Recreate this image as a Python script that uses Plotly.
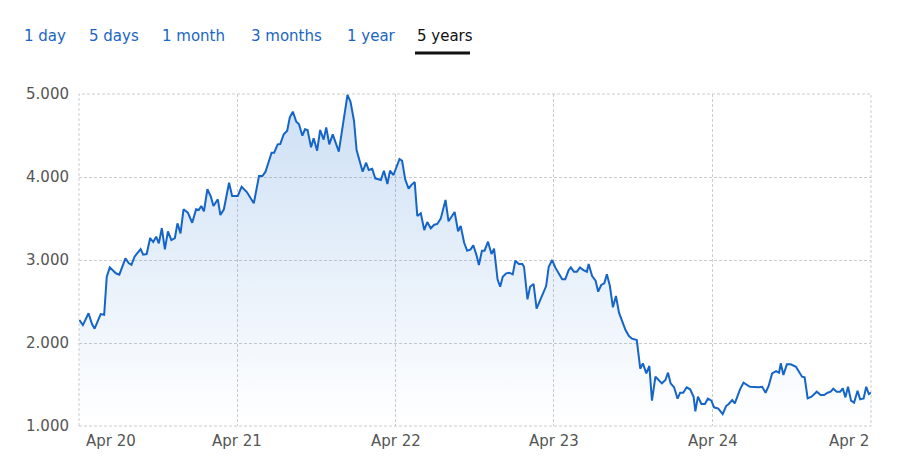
import plotly.graph_objects as go

# ---- data ----
dates = [
    "2020-04-02", "2020-04-10", "2020-04-23", "2020-05-01", "2020-05-07", "2020-05-21", "2020-05-29",
    "2020-06-04", "2020-06-11", "2020-06-25", "2020-07-03", "2020-07-17", "2020-07-25", "2020-07-31",
    "2020-08-07", "2020-08-21", "2020-08-27", "2020-09-04", "2020-09-12", "2020-09-19", "2020-09-26",
    "2020-10-02", "2020-10-09", "2020-10-16", "2020-10-23", "2020-10-31", "2020-11-08", "2020-11-14",
    "2020-11-21", "2020-11-28", "2020-12-08", "2020-12-18", "2020-12-27", "2021-01-02", "2021-01-08",
    "2021-01-14", "2021-01-22", "2021-01-30", "2021-02-05", "2021-02-15", "2021-02-21", "2021-03-01",
    "2021-03-13", "2021-03-20", "2021-04-02", "2021-04-11", "2021-04-23", "2021-05-09", "2021-05-21",
    "2021-05-29", "2021-06-05", "2021-06-19", "2021-06-25", "2021-07-03", "2021-07-09", "2021-07-17",
    "2021-07-25", "2021-07-31", "2021-08-07", "2021-08-15", "2021-08-21", "2021-08-29", "2021-09-04",
    "2021-09-10", "2021-09-18", "2021-09-24", "2021-10-02", "2021-10-09", "2021-10-17", "2021-10-23",
    "2021-10-30", "2021-11-07", "2021-11-21", "2021-12-01", "2021-12-11", "2021-12-18", "2021-12-26",
    "2022-01-01", "2022-01-07", "2022-01-15", "2022-01-23", "2022-01-29", "2022-02-06", "2022-02-13",
    "2022-02-26", "2022-03-05", "2022-03-13", "2022-03-19", "2022-03-27", "2022-04-10", "2022-04-16",
    "2022-04-23", "2022-05-01", "2022-05-07", "2022-05-15", "2022-05-21", "2022-05-29", "2022-06-06",
    "2022-06-13", "2022-06-21", "2022-06-29", "2022-07-06", "2022-07-14", "2022-07-25", "2022-08-01",
    "2022-08-15", "2022-08-23", "2022-08-29", "2022-09-06", "2022-09-13", "2022-09-21", "2022-09-27",
    "2022-10-05", "2022-10-10", "2022-10-17", "2022-10-23", "2022-10-31", "2022-11-08", "2022-11-14",
    "2022-11-22", "2022-11-28", "2022-12-04", "2022-12-12", "2022-12-19", "2022-12-27", "2023-01-02",
    "2023-01-10", "2023-01-18", "2023-01-22", "2023-01-30", "2023-02-05", "2023-02-13", "2023-02-20",
    "2023-02-28", "2023-03-06", "2023-03-14", "2023-03-20", "2023-03-28", "2023-04-04", "2023-04-12",
    "2023-04-20", "2023-04-27", "2023-05-05", "2023-05-10", "2023-05-17", "2023-05-24", "2023-05-31",
    "2023-06-08", "2023-06-16", "2023-06-20", "2023-06-28", "2023-07-06", "2023-07-12", "2023-07-19",
    "2023-07-26", "2023-08-01", "2023-08-08", "2023-08-15", "2023-08-22", "2023-08-29", "2023-09-05",
    "2023-09-13", "2023-09-21", "2023-09-28", "2023-10-09", "2023-10-17", "2023-10-23", "2023-10-31",
    "2023-11-07", "2023-11-13", "2023-11-21", "2023-11-29", "2023-12-06", "2023-12-14", "2023-12-20",
    "2023-12-26", "2024-01-03", "2024-01-11", "2024-01-17", "2024-01-24", "2024-02-01", "2024-02-09",
    "2024-02-17", "2024-02-21", "2024-02-27", "2024-03-06", "2024-03-14", "2024-03-21", "2024-03-29",
    "2024-04-04", "2024-04-14", "2024-04-24", "2024-05-02", "2024-05-08", "2024-05-16", "2024-05-22",
    "2024-06-03", "2024-06-11", "2024-06-26", "2024-07-16", "2024-07-24", "2024-08-01", "2024-08-08",
    "2024-08-16", "2024-08-25", "2024-09-01", "2024-09-05", "2024-09-11", "2024-09-19", "2024-09-28",
    "2024-10-10", "2024-10-17", "2024-10-24", "2024-10-30", "2024-11-06", "2024-11-15", "2024-11-27",
    "2024-12-06", "2024-12-14", "2024-12-22", "2024-12-29", "2025-01-04", "2025-01-12", "2025-01-20",
    "2025-01-26", "2025-02-01", "2025-02-07", "2025-02-14", "2025-02-21", "2025-03-01", "2025-03-07",
    "2025-03-15", "2025-03-21", "2025-03-27", "2025-04-01",
]

prices = [
    2277, 2216, 2358, 2229, 2172, 2349, 2340,
    2798, 2911, 2840, 2823, 3020, 2960, 2943,
    3040, 3132, 3064, 3072, 3265, 3217, 3281,
    3201, 3385, 3128, 3345, 3241, 3265, 3442,
    3321, 3611, 3570, 3449, 3611, 3602, 3650,
    3586, 3852, 3763, 3650, 3731, 3542, 3611,
    3931, 3771, 3771, 3883, 3819, 3683, 4012,
    4012, 4064, 4293, 4293, 4394, 4398, 4514,
    4558, 4719, 4787, 4666, 4639, 4498, 4575,
    4566, 4358, 4466, 4317, 4566, 4450, 4598,
    4394, 4514, 4305, 4647, 4990, 4907, 4678,
    4325, 4225, 4064, 4172, 4084, 4100, 3984,
    3964, 4076, 3916, 4076, 4024, 4217, 4196,
    3972, 3859, 3903, 3940, 3530, 3562, 3361,
    3458, 3382, 3425, 3434, 3498, 3723, 3466,
    3578, 3346, 3410, 3208, 3112, 3128, 3177,
    3050, 2940, 3112, 3112, 3221, 3072, 3136,
    2767, 2678, 2799, 2839, 2847, 2827, 2991,
    2952, 2952, 2919, 2526, 2678, 2711, 2413,
    2509, 2578, 2686, 2919, 2999, 2911, 2839,
    2767, 2767, 2879, 2911, 2859, 2859, 2911,
    2879, 2859, 2952, 2807, 2750, 2618, 2699,
    2719, 2827, 2686, 2430, 2566, 2365, 2268,
    2156, 2084, 2052, 2036, 1690, 1755, 1634,
    1723, 1305, 1594, 1554, 1514, 1554, 1642,
    1514, 1466, 1329, 1401, 1401, 1466, 1442,
    1353, 1176, 1353, 1265, 1265, 1329, 1305,
    1225, 1209, 1144, 1240, 1265, 1313, 1273,
    1442, 1521, 1473, 1466, 1473, 1401, 1482,
    1634, 1662, 1642, 1755, 1614, 1743, 1743,
    1714, 1654, 1594, 1586, 1333, 1353, 1413,
    1373, 1373, 1401, 1413, 1449, 1413, 1413,
    1453, 1345, 1473, 1305, 1281, 1425, 1321,
    1333, 1473, 1385, 1401,
]

x_tick_dates = ["2020-04-01", "2021-04-01", "2022-04-01", "2023-04-01", "2024-04-01", "2025-04-01"]
x_tick_labels = ["Apr 20", "Apr 21", "Apr 22", "Apr 23", "Apr 24", "Apr 2"]
y_tick_values = [1000, 2000, 3000, 4000, 5000]
range_buttons = ["1 day", "5 days", "1 month", "3 months", "1 year", "5 years"]
active_button = "5 years"

# ---- styling ----
LINE = "#1565c8"
GRID = "#cccccc"
LABEL = "#555555"
BLUE_TXT = "#1a66c2"
FONT = "DejaVu Sans"
FS = 15
DASH = "3px,2px"

# page body has an 8px margin: the figure is laid out relative to that
PL, PT = 8, 8          # page offset
PLOT_L, PLOT_R, PLOT_T, PLOT_B = 79, 871, 94, 426   # plot box in window pixels
W, H = 904 - PL, 466 - PT
PW, PH = PLOT_R - PLOT_L, PLOT_B - PLOT_T

fig = go.Figure()
fig.add_trace(go.Scatter(
    x=dates, y=prices, mode="lines",
    line=dict(color=LINE, width=2),
    fill="tozeroy",
    fillgradient=dict(
        type="vertical", start=1000, stop=5000,
        colorscale=[[0, "rgba(26,111,207,0.0)"], [1, "rgba(26,111,207,0.22)"]],
    ),
    hoverinfo="skip",
    showlegend=False,
))

fig.update_layout(
    width=W, height=H,
    margin=dict(l=PLOT_L - PL, r=904 - PLOT_R, t=PLOT_T - PT, b=466 - PLOT_B),
    paper_bgcolor="white", plot_bgcolor="white",
    separators=",.",
    font=dict(family=FONT, size=FS, color=LABEL),
    showlegend=False,
)

fig.update_xaxes(
    type="date",
    range=[x_tick_dates[0], x_tick_dates[-1]],
    tickvals=x_tick_dates,
    showticklabels=False,
    showgrid=True, gridcolor=GRID, gridwidth=1, griddash=DASH,
    showline=False, zeroline=False, ticks="",
)
fig.update_yaxes(
    range=[1000, 5000],
    tickvals=y_tick_values,
    tickformat=",d",
    tickfont=dict(family=FONT, size=FS, color=LABEL),
    ticklabelstandoff=9,
    showgrid=True, gridcolor=GRID, gridwidth=1, griddash=DASH,
    showline=False, zeroline=False, ticks="",
)

# dashed frame (edge grid lines)
fig.add_shape(type="rect", xref="paper", yref="paper", x0=0, x1=1, y0=0, y1=1,
              line=dict(color=GRID, width=1, dash=DASH), layer="below")

# x-axis labels (edge labels kept inside the plot like the reference)
for i, (d, lab) in enumerate(zip(x_tick_dates, x_tick_labels)):
    if i == 0:
        anchor, shift = "left", 5
    elif i == len(x_tick_dates) - 1:
        anchor, shift = "right", 0
    else:
        anchor, shift = "center", 0
    fig.add_annotation(
        x=d, xref="x", y=0, yref="paper", yanchor="middle", yshift=-15,
        xanchor=anchor, xshift=shift, text=lab, showarrow=False,
        font=dict(family=FONT, size=FS, color=LABEL),
    )

# range selector texts
btn_left_px = [22, 87, 160, 249, 345, 415]
for lab, px in zip(range_buttons, btn_left_px):
    fig.add_annotation(
        x=(px - PLOT_L) / PW, xref="paper", y=(PLOT_B - 36) / PH, yref="paper",
        xanchor="left", yanchor="middle", text=lab, showarrow=False,
        font=dict(family=FONT, size=FS, color="#111111" if lab == active_button else BLUE_TXT),
    )
fig.add_shape(
    type="line", xref="paper", yref="paper",
    x0=(415 - PLOT_L) / PW, x1=(470 - PLOT_L) / PW,
    y0=(PLOT_B - 53) / PH, y1=(PLOT_B - 53) / PH,
    line=dict(color="#111111", width=3),
)

fig.write_html("out.html")
